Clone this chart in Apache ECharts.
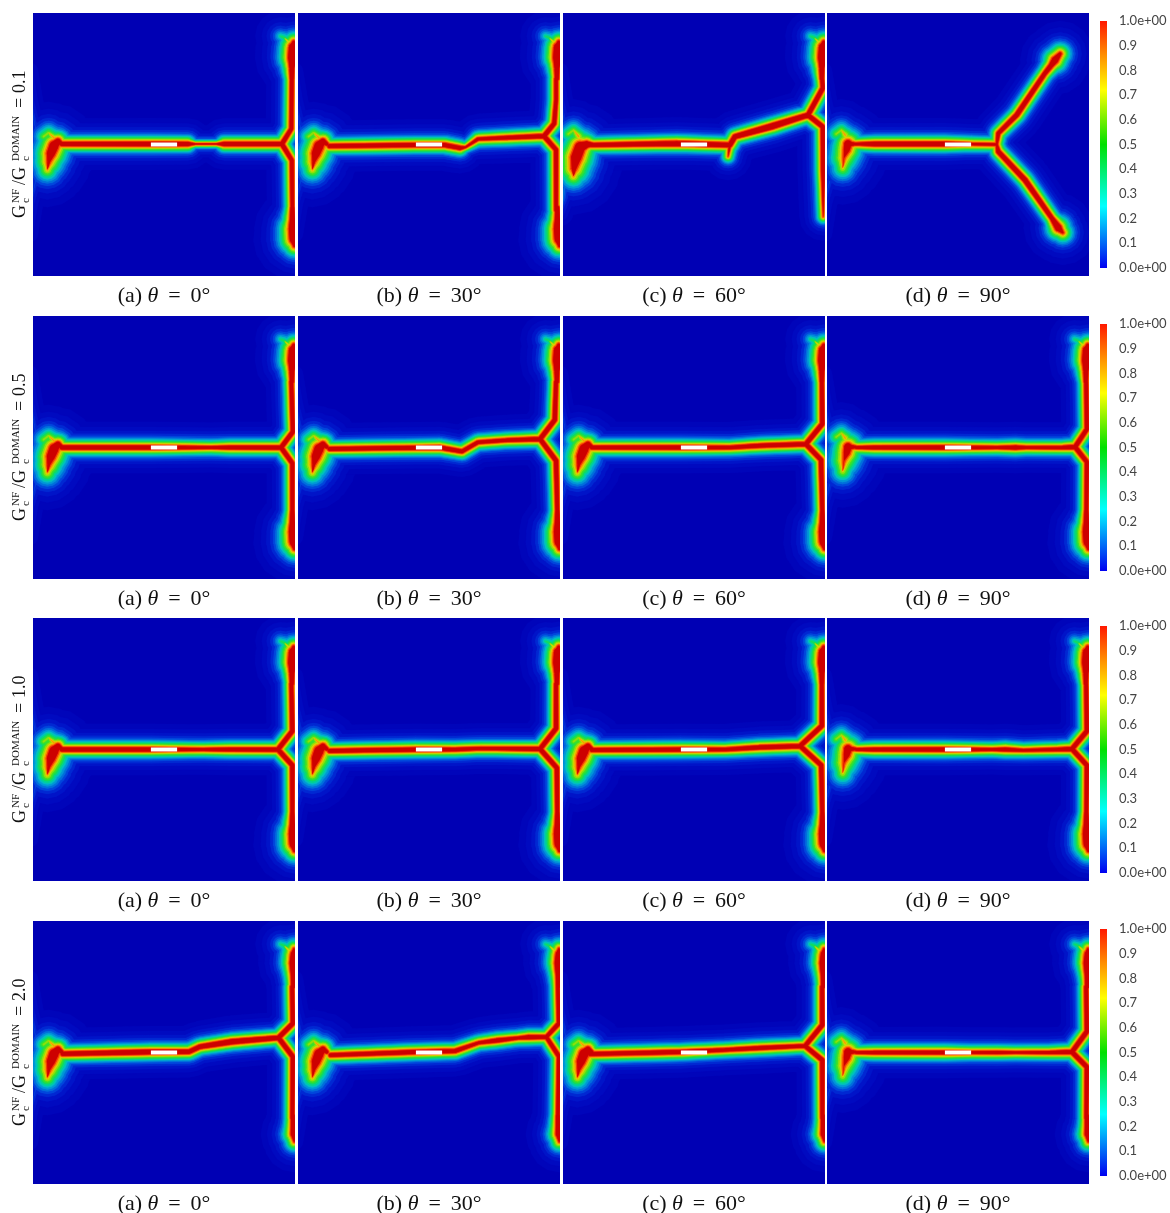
<!DOCTYPE html>
<html><head><meta charset="utf-8"><style>html,body{margin:0;background:#fff}#c{width:1170px;height:1213px;filter:blur(.45px)}</style>
<script src="https://cdn.jsdelivr.net/npm/echarts@6/dist/echarts.min.js"></script></head><body><div id="c"></div>
<script>
// value lists: [x %, y %, core half-width %, contour spread] (negative width = only the outer contours show)
const captions=['(a)','(b)','(c)','(d)'];
const angles=['0','30','60','90'];
const ratios=['0.1','0.5','1.0','2.0'];
const barLabels=['0.0e+00','0.1','0.2','0.3','0.4','0.5','0.6','0.7','0.8','0.9','1.0e+00'];
const notch=[[45,50],[55,50]];

const leftBlob=[[11,49.8,.7,1],[9.5,48.8,1.1,1.4],[8,50.5,1.8,1.9],[6.8,53.5,1.6,2],[6,56.5,.6,2.1],[5.5,59.5,-.6,2]];
const leftHalo=[[8,47.5,-.6,1.7],[6,45.5,-1.4,1.7],[4,47,-1.4,1.7]];
const leftWispA=[[-1,22,-6,1],[-1,34,-4,1],[1,44,-3.5,1]];
const leftWispB=[[1,64,-3.5,1],[-1,72,-4,1],[-1,84,-6,1]];
const strongBlob=[[11,50,.8,1],[9,50,1.3,1.4],[6.5,51,2,2],[5,55,2,2.2],[4.2,59,1,2.3],[4,62,-.4,2]];
const strongHalo=[[6,47,-.6,1.7],[4,44.5,-1.4,1.7],[2,46,-1.4,1.7]];
const strongTail=[[1,64,-2.8,1],[0,70,-2.6,1],[-1,76,-4,1]];
const smallBlob=[[11,49.8,.5,1],[9.5,49.8,.8,1.3],[8,49.8,1.5,1.8],[7.5,52,1.2,2],[6.5,55,.2,2.2],[6,59,-1,2]];
const smallHalo=[[7,46.5,-.6,1.7],[5.5,44.5,-1.4,1.7],[3.5,46,-1.4,1.7]];
const topBlob=[[98.8,25,.8,1],[98.8,21,1,1.3],[99,17,1.7,1.6],[99.2,13,1.6,1.6],[99.5,11,.6,1.4]];
const topHalo=[[98.5,12,-.8,1.6],[96,9.5,-2.2,1.6],[94.5,8.8,-2.3,1.5]];
const topEdge=[[99.3,25,.8,1],[99.3,21,.9,1.2],[99.3,16,1.4,1.5],[99.5,12.5,1.2,1.5],[99.6,10.5,.3,1.4]];
const botBlob=[[99,74,.8,1],[99,78,1,1.3],[99.3,82,1.7,1.7],[99.6,86,1.7,1.8],[99.8,88.5,.6,1.6]];
const botSmall=[[99.2,74,.8,1],[99.3,78,.9,1.2],[99.5,81,1.2,1.4],[99.7,84,.2,1.4]];

const r1c1=[[[11,49.8,.85],[45,49.8,.9],[59,49.8,.85],[62,49.8,.3,.55],[70,49.8,.3,.55],[73,49.8,.85],[95,49.8,.85]],
 [[95,49.8,.85],[98.6,44,.75],[98.8,25,.75]],[[95,49.8,.85],[98.8,56,.75],[99,75,.7]]];
const r1c2=[[[12,50.6,.8],[44.7,50.2,.85],[56,50.2,.85],[61.8,51.3,.8],[64,51,.35,.7],[68.7,47.9,.6],[80,47.4,.75],[93.9,46.8,.85]],
 [[93.9,46.8,.85],[97.8,42,.8],[98.5,33,.7],[98.5,25,.7]],[[93.9,46.8,.85],[98.5,52,.8],[98.5,75,.7]]];
const r1c3=[[[11,50.2,.8],[43.4,49.6,1],[63.7,50.2,.9],[65.6,47,.9],[80,43,1.15],[93.5,38.8,.9]],
 [[63.7,50.2,.5],[63,54.6,.05]],[[93.5,38.8,.85],[99.2,28.5,.85],[98.8,24,.7]],[[93.5,38.8,.85],[99.2,43.3,.85],[99.3,60,.8],[99.3,77.5,.1]]];
const r1c4=[[[10.7,49.8,.5],[18.3,49.8,.9],[45,49.8,.95],[55,49.8,.55],[64.8,50,.5]],
 [[64.8,50,.4],[65.4,45.7,.75],[72.4,38.8,.9],[83.2,22.9,.8],[85.5,20,.9,1.2],[87,17.9,1.3,1.5],[89,15.5,.6,1.5]],
 [[64.8,50,.4],[65.4,52.7,.85],[75.6,63.5,.95],[85.8,78,.8],[88.3,81.7,1.3,1.5],[90,83.5,.4,1.5]]];

const r2c1=[[[11,50,.85],[45,50,.85],[58,50,.7],[68,50,.55],[75,50,.8],[94.7,50,.85]],
 [[94.7,50,.85],[99.2,44,.8],[98.6,25,.75]],[[94.7,50,.85],[99,56,.8],[99,75,.75]]];
const r2c2=[[[12,50.5,.8],[54,50,.85],[62.6,51.5,.75],[68.7,48,.7],[80,47.2,.7],[92.4,46.8,.85]],
 [[92.4,46.8,.85],[98,39.5,.85],[98.5,25,.75]],[[92.4,46.8,.85],[98.5,55,.85],[99,75,.75]]];
const r2c3=[[[11,50,.8],[45,50,.85],[63.7,50,.7],[75,49.3,.8],[92.7,48.7,.85]],
 [[92.7,48.7,.85],[99,41,.85],[98.8,25,.75]],[[92.7,48.7,.85],[98.5,54.7,.85],[99,75,.75]]];
const r2c4=[[[11,50,.55],[18,50,.8],[45,50,.85],[55,50,.7],[65,50,.6],[72,50,.85],[76,50,.6],[90,50,.7],[94.7,49.8,.85]],
 [[94.7,49.8,.85],[99.2,43,.8],[98.9,25,.75]],[[94.7,49.8,.85],[99.2,55.5,.8],[99,75,.75]]];

const r3c1=[[[11,50,.85],[45,50,.85],[60,50,.65],[65,50,.6],[75,50,.8],[93.5,50,.85]],
 [[93.5,50,.85],[99,43,.85],[98.6,25,.75]],[[93.5,50,.85],[99,56,.85],[99,75,.75]]];
const r3c2=[[[12,50.5,.8],[45,50,.85],[60,50,.75],[70,49.6,.65],[92.4,49.8,.85]],
 [[92.4,49.8,.85],[98.5,42,.85],[98.5,25,.75]],[[92.4,49.8,.85],[98.8,57,.85],[99,75,.75]]];
const r3c3=[[[11,50.2,.8],[45,50,.85],[62,50,.7],[75,49.2,.85],[90.5,48.7,.85]],
 [[90.5,48.7,.85],[98.8,41,.85],[98.8,25,.75]],[[90.5,48.7,.85],[98.6,56,.85],[99,75,.75]]];
const r3c4=[[[11,50,.55],[18,50,.8],[45,50,.85],[55,50,.7],[63,50,.55],[68,50,.8],[75,50.3,.55],[88,50,.7],[93.5,49.8,.85]],
 [[93.5,49.8,.85],[99.2,43,.85],[98.9,25,.75]],[[93.5,49.8,.85],[99.2,56,.85],[99,75,.75]]];

const r4c1=[[[11.3,50.5,.85],[44.7,49.8,.95],[59.6,49.7,.85],[63.7,47.8,.85],[76,45.9,1],[93.7,44.4,.85]],
 [[93.7,44.4,.85],[99.2,38.9,.85],[98.9,25,.75]],[[93.7,44.4,.85],[99.2,51.6,.85],[99,75,.75]]];
const r4c2=[[[12.4,51,.75],[45,49.8,.85],[60,49.4,.8],[69,46.3,.6],[76,45.4,.8],[84,44.5,.6],[88,44.2,.85],[94.8,44.1,.7]],
 [[94.8,44.1,.7],[99.6,38.9,.8],[99.2,25,.7]],[[94.8,44.1,.7],[99.6,51.5,.8],[99.2,75,.7]]];
const r4c3=[[[10.3,50.6,.8],[44.7,49.8,.85],[61.8,49,.7],[75,48.3,.8],[92.4,47.5,.7]],
 [[92.4,47.5,.8],[99,39.5,.85],[98.9,25,.75]],[[92.4,47.5,.8],[99,52.9,.85],[99,75,.75]]];
const r4c4=[[[11,50,.55],[18,50,.75],[45,50,.8],[55,50,.6],[65,50,.65],[72,50,.5],[85,50,.65],[93.5,49.8,.85]],
 [[93.5,49.8,.85],[99.2,42,.85],[98.9,25,.75]],[[93.5,49.8,.85],[99.2,55.5,.85],[99,75,.75]]];

const leftSet=[leftBlob,leftHalo,leftWispA,leftWispB];
const strongSet=[strongBlob,strongHalo,leftWispA,strongTail];
const smallSet=[smallBlob,smallHalo,leftWispA,leftWispB];
const rightSet=[topBlob,topHalo,botBlob];
const rightSmall=[topEdge,topHalo,botSmall];
const panels=[
 [r1c1,leftSet,rightSet],[r1c2,leftSet,rightSet],[r1c3,strongSet,[topBlob,topHalo]],[r1c4,smallSet],
 [r2c1,leftSet,rightSet],[r2c2,leftSet,rightSet],[r2c3,leftSet,rightSet],[r2c4,smallSet,rightSet],
 [r3c1,leftSet,rightSet],[r3c2,leftSet,rightSet],[r3c3,leftSet,rightSet],[r3c4,smallSet,rightSet],
 [r4c1,leftSet,rightSmall],[r4c2,leftSet,rightSmall],[r4c3,leftSet,rightSmall],[r4c4,smallSet,rightSmall]
];
// contour ladder: how far beyond the core each contour lies (%), and its colour
const contourGap=[9,7,5.5,4.4,3.6,3,2.6,2.2,1.9,1.6,1.3,1,.7,.45,.2,-.05,-.2];
const contourColor=['rgb(0,5,186)','rgb(0,10,192)','rgb(0,20,200)','rgb(0,40,210)','rgb(0,70,220)','rgb(0,110,220)','rgb(0,150,215)','rgb(0,190,195)','rgb(0,210,150)','rgb(20,220,90)','rgb(60,225,40)','rgb(140,225,10)','rgb(220,210,0)','rgb(250,150,0)','rgb(245,70,0)','rgb(230,20,0)','rgb(205,0,0)'];
const fieldBase='rgb(0,0,180)';
const barStops=[[0,'#0000f0'],[.25,'#00ffff'],[.5,'#00e000'],[.72,'#ffff00'],[.86,'#ff9000'],[1,'#ff1800']];

const colX=[33,298,563,827], panelW=262, rowY=[13,316,618,921], panelH=263;
const serif='"Liberation Serif",serif';

function poly(pts){
  let a=0;for(let i=0;i<pts.length;i++){const p=pts[i],q=pts[(i+1)%pts.length];a+=p[0]*q[1]-q[0]*p[1];}
  if(a<0)pts=pts.slice().reverse();
  return 'M'+pts.map(p=>p[0].toFixed(1)+' '+p[1].toFixed(1)).join('L')+'Z';
}
function disc(c,r){const o=[];for(let i=0;i<16;i++){const t=i/16*Math.PI*2;o.push([c[0]+r*Math.cos(t),c[1]+r*Math.sin(t)]);}return poly(o);}
function reach(n,gap){
  const s=n[3]||1;
  if(gap<=0)return n[2]+gap;
  return n[2]+(gap<=3?gap*s:3*s+(gap-3)*(1+(s-1)*.5));
}
function fieldRender(groups){
  const lines=groups.flat();
  return function(params,api){
    if(params.dataIndex!==0)return null;
    const unit=api.size([1,1])[0];
    const children=contourGap.map((gap,k)=>{
      let d='';
      lines.forEach(line=>{
        const P=line.map(n=>({c:api.coord([n[0],n[1]]),r:Math.max(0,reach(n,gap)*unit)}));
        P.forEach((p,i)=>{
          if(p.r>0)d+=disc(p.c,p.r);
          if(i<P.length-1){
            const q=P[i+1];const dx=q.c[0]-p.c[0],dy=q.c[1]-p.c[1],l=Math.hypot(dx,dy)||1,nx=-dy/l,ny=dx/l;
            if(p.r>0||q.r>0)d+=poly([[p.c[0]+nx*p.r,p.c[1]+ny*p.r],[q.c[0]+nx*q.r,q.c[1]+ny*q.r],[q.c[0]-nx*q.r,q.c[1]-ny*q.r],[p.c[0]-nx*p.r,p.c[1]-ny*p.r]]);
          }
        });
      });
      if(!d)return null;
      return {type:'path',shape:{pathData:d},style:{fill:contourColor[k],shadowBlur:1,shadowColor:contourColor[k]},silent:true};
    }).filter(Boolean);
    return {type:'group',children};
  };
}

const grid=[],xAxis=[],yAxis=[],series=[],graphic=[];
panels.forEach((groups,i)=>{
  const r=Math.floor(i/4),c=i%4;
  grid.push({left:colX[c],top:rowY[r],width:panelW,height:panelH,show:true,backgroundColor:fieldBase,borderWidth:0,outerBoundsMode:'none'});
  xAxis.push({gridIndex:i,type:'value',min:0,max:100,axisLine:{show:false},axisTick:{show:false},axisLabel:{show:false},splitLine:{show:false},
    name:'{t|'+captions[c]+' }{m|θ}{t|\u2005\u2009=\u2005\u2009'+angles[c]+'°}',nameLocation:'middle',nameGap:9,
    nameTextStyle:{rich:{t:{fontFamily:serif,fontSize:22,color:'#111'},m:{fontFamily:serif,fontStyle:'italic',fontSize:22,color:'#111'}}}});
  yAxis.push({gridIndex:i,type:'value',min:0,max:100,inverse:true,axisLine:{show:false},axisTick:{show:false},axisLabel:{show:false},splitLine:{show:false}});
  const nodes=groups.flat(2).map(n=>n.slice(0,3));
  series.push({type:'custom',xAxisIndex:i,yAxisIndex:i,clip:true,silent:true,coordinateSystem:'cartesian2d',
    renderItem:fieldRender(groups),data:nodes,encode:{x:0,y:1},z:2});
  series.push({type:'line',xAxisIndex:i,yAxisIndex:i,data:notch,symbol:'none',silent:true,z:5,lineStyle:{color:'#fff',width:4,cap:'butt'}});
});
ratios.forEach((ratio,r)=>{
  const g=16+r;
  grid.push({left:1100,top:rowY[r]+8,width:7,height:247,outerBoundsMode:'none'});
  xAxis.push({gridIndex:g,type:'category',data:['bar'],axisLine:{show:false},axisTick:{show:false},axisLabel:{show:false}});
  yAxis.push({gridIndex:g,type:'value',min:0,max:1,interval:0.1,position:'right',splitLine:{show:false},axisLine:{show:false},
    axisTick:{length:8,lineStyle:{color:'#bbb'}},
    axisLabel:{margin:12,fontFamily:'Lato',fontSize:13,color:'#444',hideOverlap:false,formatter:v=>barLabels[Math.round(v*10)]}});
  series.push({type:'bar',xAxisIndex:g,yAxisIndex:g,data:[1],barWidth:'100%',silent:true,
    itemStyle:{color:new echarts.graphic.LinearGradient(0,1,0,0,barStops.map(s=>({offset:s[0],color:s[1]})))}});
  const y=218+rowY[r]-13;
  const tx=(t,x,yy,size)=>({type:'text',x,y:yy,style:{text:t,fontFamily:serif,fontSize:size,fill:'#111',textVerticalAlign:'bottom',textBaseline:'bottom'}});
  graphic.push({type:'group',x:27,y,rotation:Math.PI/2,silent:true,children:[
    tx('G',0,2,18),tx('NF',15,-5,11),tx('c',15,5,11),
    tx('/G',33,2,18),tx('DOMAIN',57,-5,11),tx('c',57,5,11),
    tx('=',110,2,18),tx(ratio,125,2,18)]});
});
const chart=echarts.init(document.getElementById('c'),null,{renderer:'canvas'});
chart.setOption({animation:false,backgroundColor:'#fff',grid,xAxis,yAxis,series,graphic});
</script></body></html>
